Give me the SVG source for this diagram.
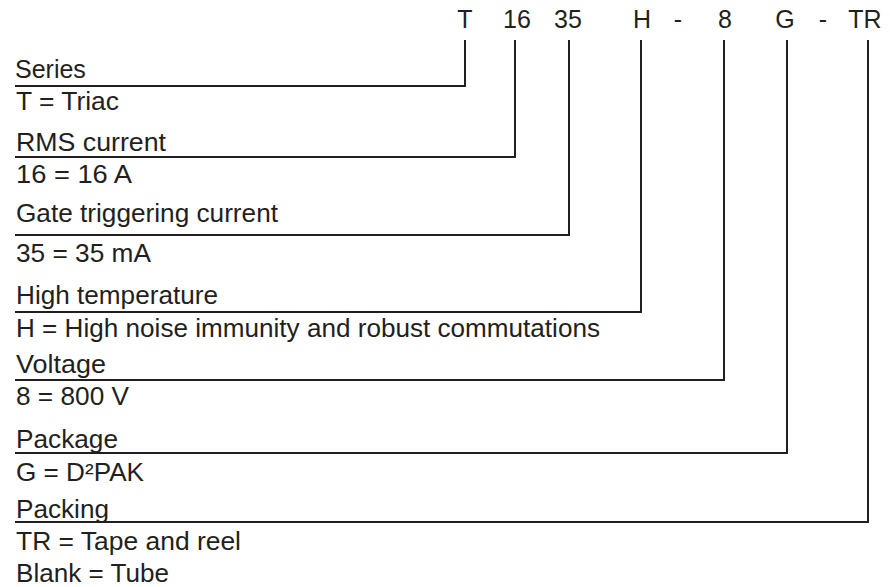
<svg xmlns="http://www.w3.org/2000/svg" width="890" height="587" viewBox="0 0 890 587">
<style>
text{font-family:"Liberation Sans",Arial,sans-serif;font-size:25px;fill:#231f20}
.c{text-anchor:middle}
.ln{stroke:#231f20;stroke-width:2;fill:none}
</style>
<rect width="890" height="587" fill="#fff"/>
<g id="code">
<text class="c" x="465" y="28">T</text>
<text class="c" x="517" y="28">16</text>
<text class="c" x="568" y="28">35</text>
<text class="c" x="642" y="28">H</text>
<text class="c" x="678" y="28">-</text>
<text class="c" x="725" y="28">8</text>
<text class="c" x="785" y="28">G</text>
<text class="c" x="823" y="28">-</text>
<text class="c" x="865" y="28">TR</text>
</g>
<g id="connectors" class="ln">
<polyline class="ln" points="465,40 465,86 15,86"/>
<polyline class="ln" points="515,40 515,157 15,157"/>
<polyline class="ln" points="569,40 569,235 15,235"/>
<polyline class="ln" points="641,40 641,312 15,312"/>
<polyline class="ln" points="724,40 724,380 15,380"/>
<polyline class="ln" points="787,40 787,453 15,453"/>
<polyline class="ln" points="868,40 868,522 15,522"/>
</g>
<g id="series">
<text x="15" y="78">Series</text>
<text x="16" y="110" textLength="103" lengthAdjust="spacingAndGlyphs">T = Triac</text>
</g>
<g id="rms">
<text x="16" y="151" textLength="150" lengthAdjust="spacingAndGlyphs">RMS current</text>
<text x="16" y="183" textLength="116" lengthAdjust="spacingAndGlyphs">16 = 16 A</text>
</g>
<g id="gate">
<text x="16" y="222" textLength="262" lengthAdjust="spacingAndGlyphs">Gate triggering current</text>
<text x="16" y="262" textLength="135" lengthAdjust="spacingAndGlyphs">35 = 35 mA</text>
</g>
<g id="hightemp">
<text x="16" y="304" textLength="202" lengthAdjust="spacingAndGlyphs">High temperature</text>
<text x="16" y="337" textLength="584" lengthAdjust="spacingAndGlyphs">H = High noise immunity and robust commutations</text>
</g>
<g id="voltage">
<text x="16" y="373" textLength="90" lengthAdjust="spacingAndGlyphs">Voltage</text>
<text x="16" y="405" textLength="113" lengthAdjust="spacingAndGlyphs">8 = 800 V</text>
</g>
<g id="package">
<text x="16" y="448" textLength="102" lengthAdjust="spacingAndGlyphs">Package</text>
<text x="16" y="481" textLength="128" lengthAdjust="spacingAndGlyphs">G = D²PAK</text>
</g>
<g id="packing">
<text x="16" y="518" textLength="93" lengthAdjust="spacingAndGlyphs">Packing</text>
<text x="16" y="550" textLength="225" lengthAdjust="spacingAndGlyphs">TR = Tape and reel</text>
<text x="16" y="582" textLength="153" lengthAdjust="spacingAndGlyphs">Blank = Tube</text>
</g>
</svg>
